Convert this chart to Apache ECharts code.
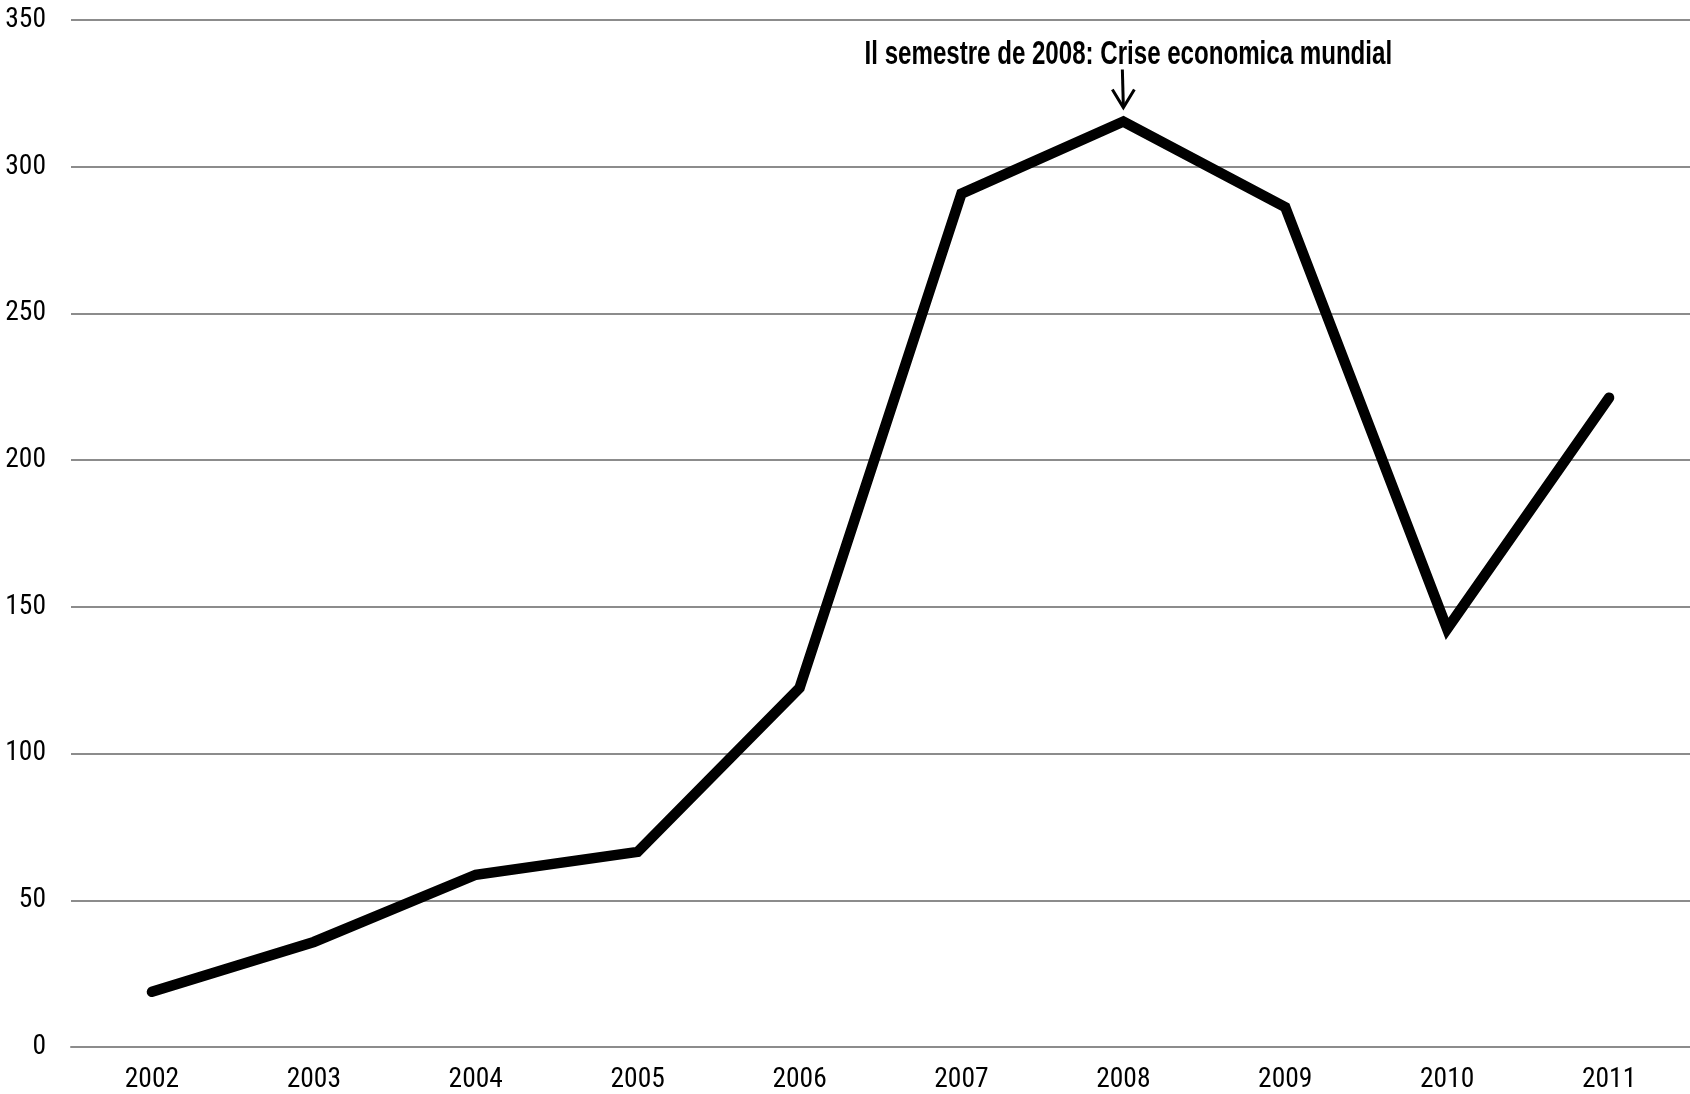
<!DOCTYPE html>
<html><head><meta charset="utf-8">
<script src="https://cdn.jsdelivr.net/npm/echarts@6/dist/echarts.min.js"></script>
<style>html,body{margin:0;padding:0;background:#fff}#c{width:1690px;height:1094px}</style>
</head><body><div id="c"></div>
<script>
const years = ['2002','2003','2004','2005','2006','2007','2008','2009','2010','2011'];
const values = [18.8, 35.8, 58.7, 66.5, 122.4, 290.8, 315.4, 286.2, 142.5, 221.3];
const yTicks = [0, 50, 100, 150, 200, 250, 300, 350];
const annotationText = 'Il semestre de 2008: Crise economica mundial';
const annotationYear = '2008';

const FONT = '"Roboto Condensed","Liberation Sans",Arial,sans-serif';
const chart = echarts.init(document.getElementById('c'), null, {renderer: 'canvas'});
const option = {
  animation: false,
  backgroundColor: '#fff',
  grid: {left: 71, right: 0, top: 20, bottom: 47},
  xAxis: {
    type: 'category', data: years, boundaryGap: true,
    axisLine: {show: true, lineStyle: {color: '#8c8c8c', width: 2}},
    axisTick: {show: false},
    axisLabel: {color: '#000', fontFamily: FONT, fontSize: 27.5, margin: 19}
  },
  yAxis: {
    type: 'value', min: yTicks[0], max: yTicks[yTicks.length-1], interval: 50,
    axisLine: {show: false}, axisTick: {show: false},
    splitLine: {lineStyle: {color: '#8c8c8c', width: 2}},
    axisLabel: {color: '#000', fontFamily: FONT, fontSize: 27.5, margin: 25}
  },
  series: [{
    type: 'line', data: values, symbol: 'none',
    lineStyle: {color: '#000', width: 10.5, cap: 'round', join: 'miter'}
  }]
};
chart.setOption(option);
const idx = years.indexOf(annotationYear);
const p = chart.convertToPixel({seriesIndex: 0}, [idx, values[idx]]);
chart.setOption({
  graphic: [
    {type: 'text', x: p[0] + 5, y: 55, scaleX: 0.73, scaleY: 1,
     style: {text: annotationText, font: 'bold 33px "Liberation Sans",Arial,sans-serif', fill: '#000', align: 'center', verticalAlign: 'middle'}},
    {type: 'line', shape: {x1: p[0]-1, y1: p[1]-52, x2: p[0], y2: p[1]-15}, style: {stroke: '#000', lineWidth: 3}},
    {type: 'polyline', shape: {points: [[p[0]-11, p[1]-32], [p[0], p[1]-14], [p[0]+11, p[1]-32]]}, style: {stroke: '#000', lineWidth: 3, fill: null}}
  ]
});
</script></body></html>
